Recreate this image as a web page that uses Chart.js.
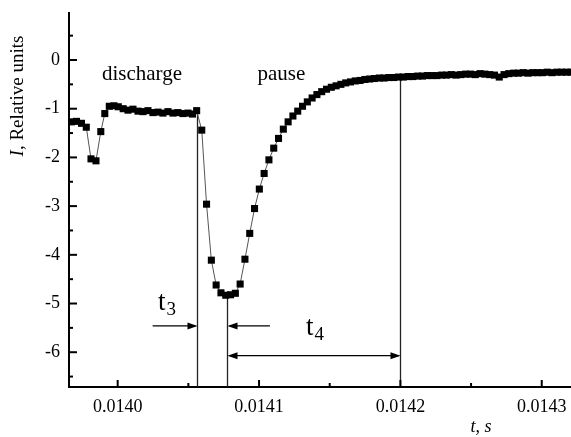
<!DOCTYPE html>
<html><head><meta charset="utf-8">
<script src="https://cdn.jsdelivr.net/npm/chart.js@4"></script>
<style>html,body{margin:0;padding:0;background:#fff;}canvas{display:block;}</style>
</head><body>
<canvas id="c" width="571" height="437"></canvas>
<script>
// time, s
const timeS = [
0.01396733,0.01397086,0.01397440,0.01397779,0.01398112,0.01398465,0.01398805,0.01399088,0.01399406,0.01399738,
0.01400042,0.01400389,0.01400728,0.01401082,0.01401436,0.01401789,0.01402143,0.01402496,0.01402850,0.01403204,
0.01403557,0.01403911,0.01404264,0.01404618,0.01404972,0.01405290,0.01405587,0.01405948,0.01406287,0.01406627,
0.01406966,0.01407305,0.01407645,0.01407984,0.01408324,0.01408663,0.01409003,0.01409342,0.01409682,0.01410021,
0.01410361,0.01410700,0.01411040,0.01411379,0.01411719,0.01412058,0.01412397,0.01412737,0.01413076,0.01413416,
0.01413755,0.01414095,0.01414434,0.01414774,0.01415113,0.01415453,0.01415792,0.01416132,0.01416471,0.01416810,
0.01417150,0.01417489,0.01417829,0.01418168,0.01418508,0.01418847,0.01419187,0.01419526,0.01419866,0.01420205,
0.01420545,0.01420884,0.01421223,0.01421563,0.01421902,0.01422242,0.01422581,0.01422921,0.01423260,0.01423600,
0.01423939,0.01424279,0.01424618,0.01424958,0.01425297,0.01425636,0.01425976,0.01426315,0.01426655,0.01426994,
0.01427334,0.01427673,0.01428013,0.01428352,0.01428692,0.01429031,0.01429371,0.01429710,0.01430050,0.01430389,
0.01430728,0.01431068,0.01431407,0.01431747,0.01432086
];
// I, relative units
const currentI = [
-1.27,-1.26,-1.30,-1.38,-2.03,-2.07,-1.47,-1.10,-0.95,-0.94,
-0.96,-1.00,-1.03,-1.01,-1.05,-1.06,-1.04,-1.08,-1.07,-1.09,
-1.06,-1.09,-1.08,-1.10,-1.09,-1.11,-1.04,-1.44,-2.96,-4.11,
-4.62,-4.78,-4.83,-4.82,-4.79,-4.60,-4.09,-3.56,-3.05,-2.65,
-2.33,-2.05,-1.81,-1.61,-1.42,-1.27,-1.15,-1.05,-0.95,-0.86,
-0.78,-0.71,-0.65,-0.60,-0.56,-0.53,-0.50,-0.47,-0.45,-0.43,
-0.42,-0.40,-0.39,-0.38,-0.37,-0.37,-0.36,-0.36,-0.35,-0.35,
-0.34,-0.34,-0.33,-0.33,-0.32,-0.32,-0.32,-0.31,-0.31,-0.30,
-0.31,-0.30,-0.29,-0.29,-0.30,-0.28,-0.29,-0.30,-0.31,-0.35,
-0.30,-0.28,-0.27,-0.27,-0.26,-0.27,-0.26,-0.26,-0.26,-0.25,
-0.26,-0.25,-0.25,-0.25,-0.25
];
const xTickValues = [0.0140, 0.0141, 0.0142, 0.0143];
const xMinorTicks = [0.01405, 0.01415, 0.01425];
const yTickValues = [0, -1, -2, -3, -4, -5, -6];
const yMinorTicks = [0.5, -0.5, -1.5, -2.5, -3.5, -4.5, -5.5, -6.5];
// vertical marker lines: time and the value they reach
const markerTimes = [0.0140559, 0.0140775, 0.0142];
const markerTops = [-1.04, -4.82, -0.35];
const regionLabels = ['discharge', 'pause'];

const SERIF = '"Liberation Serif", "Times New Roman", serif';
const X_MIN = 0.01396556, X_MAX = 0.0143207, Y_MIN = -6.714, Y_MAX = 0.965;

const decor = {
  id: 'decor',
  beforeDatasetsDraw(chart) {
    const {ctx, scales: {x, y}} = chart;
    ctx.save();
    ctx.strokeStyle = '#222';
    ctx.lineWidth = 1.3;
    markerTimes.forEach((t, i) => {
      const px = Math.round(x.getPixelForValue(t)) + 0.5;
      ctx.beginPath();
      ctx.moveTo(px, y.getPixelForValue(Y_MIN));
      ctx.lineTo(px, y.getPixelForValue(markerTops[i]));
      ctx.stroke();
    });
    ctx.restore();
  },
  afterDraw(chart) {
    const {ctx, scales: {x, y}} = chart;
    const bottom = y.getPixelForValue(Y_MIN), left = x.getPixelForValue(X_MIN);
    ctx.save();
    ctx.strokeStyle = '#000';
    ctx.lineWidth = 2;
    // inward ticks
    const tickX = (vals, len) => vals.forEach(v => {
      const p = x.getPixelForValue(v);
      ctx.beginPath(); ctx.moveTo(p, bottom); ctx.lineTo(p, bottom - len); ctx.stroke();
    });
    const tickY = (vals, len) => vals.forEach(v => {
      const p = y.getPixelForValue(v);
      ctx.beginPath(); ctx.moveTo(left, p); ctx.lineTo(left + len, p); ctx.stroke();
    });
    tickX(xTickValues, 7); tickX(xMinorTicks, 4);
    tickY(yTickValues, 8); tickY(yMinorTicks, 4);

    // arrows
    const arrowHead = (xp, yp, dir) => {
      ctx.beginPath();
      ctx.moveTo(xp, yp);
      ctx.lineTo(xp - dir * 10, yp - 3.5);
      ctx.lineTo(xp - dir * 10, yp + 3.5);
      ctx.closePath(); ctx.fill();
    };
    ctx.fillStyle = '#000';
    ctx.lineWidth = 1.2;
    const l1 = Math.round(x.getPixelForValue(markerTimes[0])) + 0.5;
    const l2 = Math.round(x.getPixelForValue(markerTimes[1])) + 0.5;
    const l3 = Math.round(x.getPixelForValue(markerTimes[2])) + 0.5;
    const ya = y.getPixelForValue(-5.46);
    ctx.beginPath(); ctx.moveTo(x.getPixelForValue(0.01402475), ya); ctx.lineTo(l1 - 2, ya); ctx.stroke();
    arrowHead(l1, ya, 1);
    ctx.beginPath(); ctx.moveTo(x.getPixelForValue(0.01410771), ya); ctx.lineTo(l2 + 2, ya); ctx.stroke();
    arrowHead(l2, ya, -1);
    const yb = y.getPixelForValue(-6.07);
    ctx.beginPath(); ctx.moveTo(l2 + 2, yb); ctx.lineTo(l3 - 2, yb); ctx.stroke();
    arrowHead(l2, yb, -1); arrowHead(l3, yb, 1);

    // t3, t4 labels
    const sub = (t, s, xv, yv) => {
      const xp = x.getPixelForValue(xv), yp = y.getPixelForValue(yv);
      ctx.textBaseline = 'alphabetic'; ctx.textAlign = 'left';
      ctx.font = '27px ' + SERIF;
      ctx.fillText(t, xp, yp);
      const w = ctx.measureText(t).width;
      ctx.font = '19px ' + SERIF;
      ctx.fillText(s, xp + w + 1, yp + 5);
    };
    sub('t', '3', 0.0140285, -5.13);
    sub('t', '4', 0.0141332, -5.647);

    // region labels
    ctx.font = '21px ' + SERIF;
    ctx.textAlign = 'left'; ctx.textBaseline = 'alphabetic';
    ctx.fillText(regionLabels[0], x.getPixelForValue(0.01398885), y.getPixelForValue(-0.42));
    ctx.fillText(regionLabels[1], x.getPixelForValue(0.01409894), y.getPixelForValue(-0.42));

    // y axis title
    ctx.save();
    ctx.translate(18, 96);
    ctx.rotate(-Math.PI / 2);
    ctx.textBaseline = 'middle'; ctx.textAlign = 'left';
    const f1 = 'italic 19px ' + SERIF, f2 = '19px ' + SERIF;
    ctx.font = f1; const w1 = ctx.measureText('I').width;
    ctx.font = f2; const w2 = ctx.measureText(', Relative units').width;
    const sx = -(w1 + w2) / 2;
    ctx.font = f1; ctx.fillText('I', sx, 0);
    ctx.font = f2; ctx.fillText(', Relative units', sx + w1, 0);
    ctx.restore();

    // x axis title
    ctx.font = 'italic 18px ' + SERIF;
    ctx.textAlign = 'center'; ctx.textBaseline = 'middle';
    ctx.fillText('t, s', 481, 427);
    ctx.restore();
  }
};

new Chart(document.getElementById('c'), {
  type: 'line',
  data: {
    datasets: [{
      data: timeS.map((t, i) => ({x: t, y: currentI[i]})),
      borderColor: '#555',
      borderWidth: 1,
      pointStyle: 'rect',
      pointRadius: 5,
      pointBorderWidth: 0,
      pointBackgroundColor: '#000',
      pointBorderColor: '#000',
      tension: 0
    }]
  },
  options: {
    responsive: false,
    devicePixelRatio: 1,
    animation: false,
    events: [],
    layout: {autoPadding: false, padding: {top: 13, right: 0, bottom: 0, left: 0}},
    plugins: {legend: {display: false}, tooltip: {enabled: false}},
    scales: {
      x: {
        type: 'linear', min: X_MIN, max: X_MAX,
        afterBuildTicks: s => { s.ticks = xTickValues.map(v => ({value: v})); },
        afterFit: s => { s.height = 50; s.paddingLeft = 0; s.paddingRight = 0; },
        ticks: {callback: v => v.toFixed(4), font: {family: SERIF, size: 18}, color: '#000', padding: 9, maxRotation: 0, autoSkip: false},
        grid: {display: false, drawTicks: false},
        border: {display: true, color: '#000', width: 2}
      },
      y: {
        type: 'linear', min: Y_MIN, max: Y_MAX,
        afterBuildTicks: s => { s.ticks = yTickValues.map(v => ({value: v})); },
        afterFit: s => { s.width = 69; s.paddingTop = 0; s.paddingBottom = 0; },
        ticks: {callback: v => String(v), font: {family: SERIF, size: 18}, color: '#000', padding: 9, autoSkip: false},
        grid: {display: false, drawTicks: false},
        border: {display: true, color: '#000', width: 2}
      }
    }
  },
  plugins: [decor]
});
</script>
</body></html>
